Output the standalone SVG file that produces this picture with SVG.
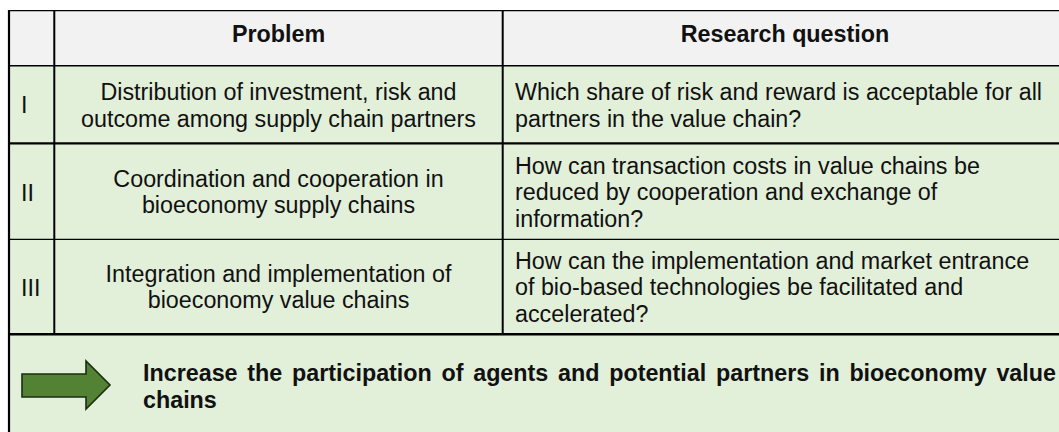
<svg xmlns="http://www.w3.org/2000/svg" width="1059" height="432" viewBox="0 0 1059 432">
<style>
text{font-family:"Liberation Sans",Arial,sans-serif;font-size:23.3px;fill:#111}
.b{font-weight:bold}
.c{text-anchor:middle}
.ln{stroke:#000;fill:none}
</style>
<rect width="1059" height="432" fill="#fff"/>
<g id="backgrounds">
<rect x="9" y="10.7" width="1060" height="55" fill="#f2f2f2"/>
<rect x="9" y="65.7" width="1060" height="370" fill="#e2efd9"/>
</g>
<g id="header">
<text class="b c" x="278.5" y="42">Problem</text>
<text class="b c" x="785" y="42">Research question</text>
</g>
<g id="row-I">
<text x="21" y="113.3">I</text>
<text class="c" x="278.5" y="100">Distribution of investment, risk and</text>
<text class="c" x="278.5" y="126.8">outcome among supply chain partners</text>
<text x="515" y="100">Which share of risk and reward is acceptable for all</text>
<text x="515" y="126.8">partners in the value chain?</text>
</g>
<g id="row-II">
<text x="21" y="201">II</text>
<text class="c" x="278.5" y="186.7">Coordination and cooperation in</text>
<text class="c" x="278.5" y="213.4">bioeconomy supply chains</text>
<text x="515" y="173.5">How can transaction costs in value chains be</text>
<text x="515" y="200.3">reduced by cooperation and exchange of</text>
<text x="515" y="227.1">information?</text>
</g>
<g id="row-III">
<text x="21" y="295.5">III</text>
<text class="c" x="278.5" y="281.7">Integration and implementation of</text>
<text class="c" x="278.5" y="308.4">bioeconomy value chains</text>
<text x="515" y="268.5">How can the implementation and market entrance</text>
<text x="515" y="295.3">of bio-based technologies be facilitated and</text>
<text x="515" y="322.1">accelerated?</text>
</g>
<g id="grid">
<line class="ln" x1="8" y1="10.7" x2="1059" y2="10.7" stroke-width="1.3"/>
<line class="ln" x1="8" y1="65.7" x2="1059" y2="65.7" stroke-width="1.6"/>
<line class="ln" x1="8" y1="143.3" x2="1059" y2="143.3" stroke-width="2.2"/>
<line class="ln" x1="8" y1="239.3" x2="1059" y2="239.3" stroke-width="1.3"/>
<line class="ln" x1="8" y1="334.3" x2="1059" y2="334.3" stroke-width="2.4"/>
<line class="ln" x1="9" y1="10" x2="9" y2="432" stroke-width="2.2"/>
<line class="ln" x1="54.3" y1="10" x2="54.3" y2="334.3" stroke-width="2"/>
<line class="ln" x1="502.7" y1="10" x2="502.7" y2="334.3" stroke-width="2"/>
</g>
<g id="outcome">
<g id="arrow">
<polygon points="22,374 86,374 86,361 110,385 86,409 86,397 22,397" fill="#548235" stroke="#1b2e10" stroke-width="1.6" stroke-linejoin="miter"/>
</g>
<text class="b" y="380.5"><tspan x="143">Increase</tspan><tspan x="247.3">the</tspan><tspan x="292">participation</tspan><tspan x="441.5">of</tspan><tspan x="473.2">agents</tspan><tspan x="558.1">and</tspan><tspan x="609.2">potential</tspan><tspan x="716.1">partners</tspan><tspan x="819">in</tspan><tspan x="849.4">bioeconomy</tspan><tspan x="996.4">value</tspan></text>
<text class="b" x="143" y="408.3">chains</text>
</g>
</svg>
